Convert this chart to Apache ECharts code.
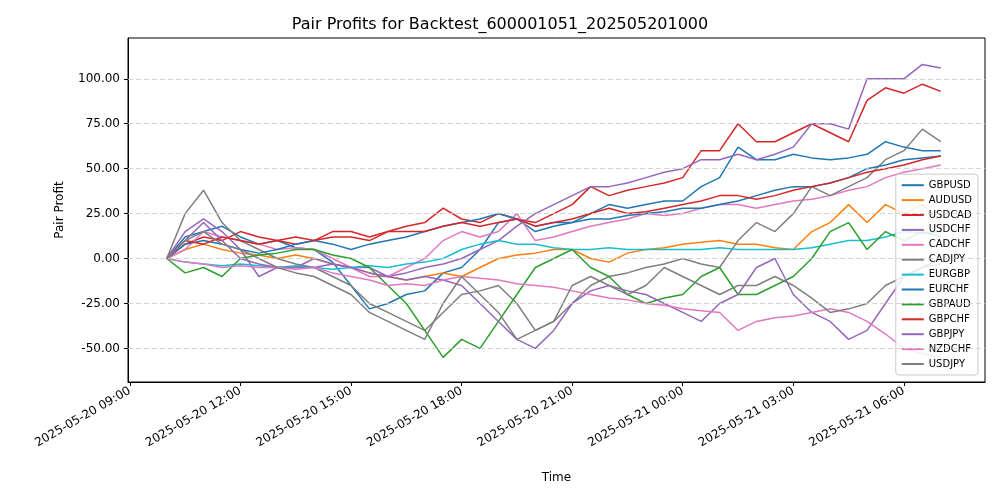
<!DOCTYPE html>
<html><head><meta charset="utf-8">
<script src="https://cdn.jsdelivr.net/npm/echarts@6/dist/echarts.min.js"></script>
<style>html,body{margin:0;padding:0;background:#fff}#c{width:1000px;height:500px}</style>
</head><body><div id="c"></div>
<script>
// half-hourly samples from 2025-05-20 10:00 to 2025-05-21 07:00 (43 points)
const startTime = Date.UTC(2025,4,20,10,0);
const stepMs = 30*60*1000;
const pairNames = ["GBPUSD","AUDUSD","USDCAD","USDCHF","CADCHF","CADJPY","EURGBP","EURCHF","GBPAUD","GBPCHF","GBPJPY","NZDCHF","USDJPY"];
const pairColors = ["#1f77b4","#ff7f0e","#d62728","#9467bd","#e377c2","#7f7f7f","#17becf","#1f77b4","#2ca02c","#d62728","#9467bd","#e377c2","#7f7f7f"];
const GBPUSD = [0,12,15,18,12,8,10,6,5,-2,-15,-28,-25,-20,-18,-8,-5,5,20,22,15,18,20,25,30,28,30,32,32,40,45,62,55,55,58,56,55,56,58,65,62,60,60];
const AUDUSD = [0,5,8,5,3,2,0,2,0,-3,-5,-8,-10,-12,-10,-8,-10,-5,0,2,3,5,5,0,-2,3,5,6,8,9,10,8,8,6,5,15,20,30,20,30,25,30,20];
const USDCAD = [0,8,12,10,15,12,10,8,10,15,15,12,15,18,20,28,22,20,25,22,20,25,30,40,35,38,40,42,45,60,60,75,65,65,70,75,70,65,88,95,92,97,93];
const USDCHF = [0,15,22,15,5,-10,-5,-5,0,-3,-5,-5,-10,-8,-5,-3,0,5,10,18,25,30,35,40,40,42,45,48,50,55,55,58,55,58,62,75,75,72,100,100,100,108,106];
const CADCHF = [0,5,15,12,10,8,5,6,5,0,-5,-10,-10,-5,0,10,15,12,15,25,10,12,15,18,20,22,25,24,25,28,30,30,28,30,32,33,35,38,40,45,48,50,52];
const CADJPY = [0,25,38,20,10,5,0,-3,-5,-10,-15,-25,-30,-35,-40,-30,-20,-18,-15,-25,-40,-35,-25,-15,-10,-8,-5,-3,0,-3,-5,10,20,15,25,40,35,40,45,55,60,72,65];
const EURGBP = [0,-2,-3,-4,-3,-4,-5,-4,-5,-6,-5,-4,-5,-3,-2,0,5,8,10,8,8,6,5,5,6,5,5,5,5,5,6,5,5,5,5,6,8,10,10,12,15,14,15];
const EURCHF = [0,8,10,8,5,3,5,8,10,8,5,8,10,12,15,18,20,22,25,22,18,20,20,22,22,24,25,26,28,28,30,32,35,38,40,40,42,45,50,52,55,56,57];
const GBPAUD = [0,-8,-5,-10,0,2,3,5,5,2,0,-5,-15,-25,-40,-55,-45,-50,-35,-20,-5,0,5,-5,-10,-20,-25,-22,-20,-10,-5,-20,-20,-15,-10,0,15,20,5,15,10,15,12];
const GBPCHF = [0,10,8,12,10,8,10,12,10,12,12,10,15,15,15,18,20,18,20,22,18,20,22,25,28,25,26,28,30,32,35,35,33,35,38,40,42,45,48,50,52,55,57];
const GBPJPY = [0,10,20,10,0,-3,-5,-5,-5,-3,-5,-8,-10,-12,-10,-12,-15,-25,-35,-45,-50,-40,-25,-18,-15,-18,-20,-25,-30,-35,-25,-20,-5,0,-20,-30,-35,-45,-40,-25,-10,-5,0];
const NZDCHF = [0,-2,-3,-5,-4,-5,-5,-6,-5,-8,-10,-12,-15,-14,-15,-12,-10,-11,-12,-14,-15,-16,-18,-20,-22,-23,-25,-26,-28,-29,-30,-40,-35,-33,-32,-30,-28,-30,-35,-42,-50,-53,-55];
const USDJPY = [0,10,15,8,5,0,-5,-8,-10,-15,-20,-30,-35,-40,-45,-25,-10,-20,-30,-45,-40,-35,-15,-10,-15,-20,-15,-5,-10,-15,-20,-15,-15,-10,-15,-22,-30,-28,-25,-15,-10,-5,-3];
const pairValues = [GBPUSD,AUDUSD,USDCAD,USDCHF,CADCHF,CADJPY,EURGBP,EURCHF,GBPAUD,GBPCHF,GBPJPY,NZDCHF,USDJPY];
const yTicks = [-50,-25,0,25,50,75,100];
const xTickLabels = ["2025-05-20 09:00","2025-05-20 12:00","2025-05-20 15:00","2025-05-20 18:00","2025-05-20 21:00","2025-05-21 00:00","2025-05-21 03:00","2025-05-21 06:00"];

function parseT(s){const [d,t]=s.split(" ");const [Y,M,D]=d.split("-").map(Number);const [h,m]=t.split(":").map(Number);return Date.UTC(Y,M-1,D,h,m);}
const xTicks = xTickLabels.map(parseT);
const labelMap = {}; xTicks.forEach((v,i)=>labelMap[v]=xTickLabels[i]);

const series = [{type:'line',data:[],silent:true,
  markLine:{symbol:'none',silent:true,label:{show:false},lineStyle:{color:'#cccccc',type:[5,3],width:0.8},
  data:yTicks.map(v=>({yAxis:v}))}}];
pairNames.forEach((n,k)=>series.push({
  name:n, type:'line', showSymbol:false, symbol:'none', animation:false,
  lineStyle:{width:1.5,color:pairColors[k]}, itemStyle:{color:pairColors[k]},
  data: pairValues[k].map((v,i)=>[startTime+i*stepMs, v])
}));

const chart = echarts.init(document.getElementById('c'));
chart.setOption({
  animation:false,
  title:{text:'Pair Profits for Backtest_600001051_202505201000',left:'center',top:12,textStyle:{fontFamily:'DejaVu Sans',fontSize:16,fontWeight:'normal',color:'#000'}},
  grid:{left:128,right:15,top:38,bottom:118,show:true,borderColor:'#000',borderWidth:1,backgroundColor:'transparent'},
  legend:{orient:'vertical',right:22,bottom:125,data:pairNames,icon:'rect',itemWidth:22,itemHeight:2,itemGap:4.9,
    padding:[6,6,6,6],backgroundColor:'rgba(255,255,255,0.85)',borderColor:'#cccccc',borderWidth:1,borderRadius:3,
    textStyle:{fontFamily:'DejaVu Sans',fontSize:10,color:'#000'}},
  xAxis:{type:'value',min:Date.UTC(2025,4,20,8,57),max:Date.UTC(2025,4,21,8,12),
    name:'Time',nameLocation:'middle',nameGap:90,nameTextStyle:{fontFamily:'DejaVu Sans',fontSize:12,color:'#000'},
    axisLine:{onZero:false,lineStyle:{color:'#000'}},splitLine:{show:false},
    axisTick:{customValues:xTicks,length:4,lineStyle:{color:'#000'}},
    axisLabel:{customValues:xTicks,rotate:30,fontFamily:'DejaVu Sans',fontSize:12,color:'#000',formatter:v=>labelMap[v]||''}},
  yAxis:{type:'value',min:-68.7,max:122.7,
    name:'Pair Profit',nameLocation:'middle',nameGap:62,nameTextStyle:{fontFamily:'DejaVu Sans',fontSize:12,color:'#000'},
    axisLine:{show:true,onZero:false,lineStyle:{color:'#000'}},splitLine:{show:false},
    axisTick:{show:true,customValues:yTicks,length:4,lineStyle:{color:'#000'}},
    axisLabel:{customValues:yTicks,fontFamily:'DejaVu Sans',fontSize:12,color:'#000',formatter:v=>v.toFixed(2)}},
  series:series
});
</script></body></html>
